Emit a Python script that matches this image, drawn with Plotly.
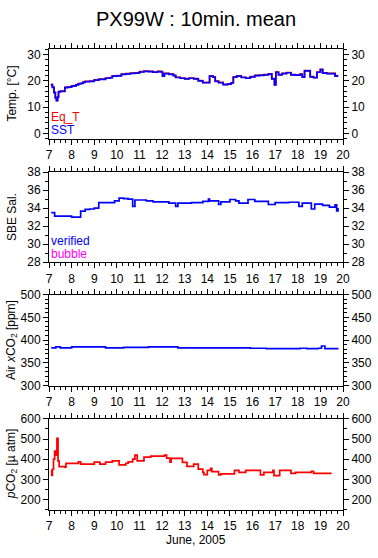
import plotly.graph_objects as go

# ---------------- data ----------------
sst_t = [7.08, 7.15, 7.22, 7.28, 7.33, 7.38, 7.42, 7.5, 7.6, 7.7, 7.8, 7.9, 8.0, 8.1, 8.2, 8.3,
         8.4, 8.5, 8.6, 8.8, 9.0, 9.2, 9.4, 9.5, 9.7, 9.8, 10.0, 10.2, 10.4, 10.6, 10.8, 11.0,
         11.2, 11.4, 11.6, 11.8, 11.95, 12.02, 12.1, 12.3, 12.5, 12.6, 12.8, 13.0, 13.2, 13.4,
         13.6, 13.8, 14.0, 14.1, 14.25, 14.35, 14.5, 14.7, 14.9, 15.05, 15.15, 15.3, 15.5, 15.7,
         15.9, 16.1, 16.3, 16.5, 16.7, 16.85, 16.97, 17.03, 17.15, 17.3, 17.5, 17.7, 17.9, 18.1,
         18.2, 18.3, 18.45, 18.55, 18.7, 18.85, 19.0, 19.1, 19.3, 19.55, 19.65, 19.75]
sst_v = [18.5, 17.5, 15.5, 13.5, 12.5, 13.8, 15.8, 16.0, 16.0, 17.4, 17.5, 17.6, 18.0, 18.1, 18.5, 18.9,
         19.0, 19.4, 19.7, 19.8, 20.3, 20.6, 20.6, 21.0, 21.2, 21.8, 21.9, 22.5, 22.7, 22.9, 23.0, 23.4,
         23.6, 23.5, 23.3, 23.5, 23.4, 21.8, 22.8, 22.5, 22.0, 21.3, 21.0, 20.8, 21.0, 20.8,
         20.0, 19.3, 19.3, 21.8, 21.4, 19.8, 19.3, 18.6, 18.8, 19.2, 21.4, 21.8, 21.3, 21.0,
         21.5, 22.0, 22.1, 22.3, 22.6, 20.8, 18.5, 23.3, 22.3, 22.8, 23.1, 22.3, 22.2, 22.5,
         21.4, 23.8, 23.8, 21.5, 21.2, 23.3, 24.3, 23.0, 22.8, 22.8, 21.8, 22.2]
eqt_v = [18.7, 17.6, 15.6, 13.6, 12.6, 13.9, 15.9, 16.1, 16.1, 17.5, 17.6, 17.7, 18.1, 18.2, 18.6, 19.0,
         19.1, 19.5, 19.8, 19.9, 20.4, 20.7, 20.7, 21.1, 21.3, 21.9, 22.0, 22.6, 22.8, 23.0, 23.1, 23.5,
         23.7, 23.6, 23.4, 23.6, 23.5, 21.9, 22.9, 22.6, 22.1, 21.4, 21.1, 20.9, 21.1, 20.9,
         20.1, 19.4, 19.4, 21.9, 21.5, 19.9, 19.4, 18.7, 18.9, 19.3, 21.5, 21.9, 21.4, 21.1,
         21.6, 22.1, 22.2, 22.4, 22.7, 20.9, 18.6, 23.4, 22.4, 22.9, 23.2, 22.4, 22.3, 22.6,
         21.5, 23.9, 23.9, 21.6, 21.3, 23.4, 24.4, 23.1, 22.9, 22.9, 21.9, 22.3]

sal_t = [7.1, 7.25, 7.5, 7.8, 8.0, 8.3, 8.4, 8.6, 8.8, 9.0, 9.2, 9.5, 9.9, 10.1, 10.3, 10.5,
         10.7, 10.8, 11.0, 11.3, 11.6, 12.0, 12.3, 12.6, 12.7, 13.0, 13.3, 13.8, 14.05, 14.1,
         14.5, 14.6, 15.0, 15.25, 15.4, 15.8, 16.1, 16.4, 16.7, 17.0, 17.3, 17.6, 18.05, 18.2,
         18.6, 18.75, 19.1, 19.4, 19.65, 19.72, 19.78]
sal_v = [33.5, 33.1, 33.1, 33.1, 33.0, 33.0, 33.67, 33.85, 33.9, 34.0, 34.6, 34.6, 34.8, 35.1, 35.05, 35.0,
         34.2, 34.9, 34.9, 34.8, 34.7, 34.7, 34.55, 34.2, 34.55, 34.55, 34.6, 34.75, 35.0, 34.8,
         34.4, 34.7, 34.95, 34.8, 34.55, 34.95, 34.75, 34.75, 34.4, 34.6, 34.6, 34.65, 34.2, 34.55,
         33.9, 34.45, 34.3, 34.1, 34.35, 33.7, 34.0]

air_t = [7.1, 7.3, 7.5, 8.0, 9.5, 10.2, 10.3, 11.4, 12.7, 15.9, 16.5, 16.6, 17.8, 18.1, 18.4,
         18.9, 19.05, 19.2, 19.8]
air_v = [383, 385, 383, 385, 383, 383, 384, 385, 383, 382, 382, 381, 381, 382, 381,
         382, 387, 381, 381]

pco2_t = [7.09, 7.12, 7.15, 7.2, 7.25, 7.3, 7.35, 7.4, 7.45, 7.65, 7.7, 7.75, 8.0, 8.3, 8.4,
          8.9, 9.0, 9.25, 9.5, 9.8, 10.1, 10.4, 10.5, 10.7, 10.8, 10.9, 11.2, 11.5, 12.0, 12.1,
          12.2, 12.35, 12.4, 12.8, 12.9, 13.1, 13.4, 13.6, 13.8, 13.85, 14.0, 14.15, 14.2, 14.5,
          14.6, 15.2, 15.4, 15.7, 16.35, 16.5, 16.9, 16.95, 17.2, 17.7, 17.9, 18.3, 18.6, 18.7,
          19.5]
pco2_v = [345, 320, 350, 400, 440, 420, 504, 390, 363, 363, 360, 379, 379, 387, 376,
          376, 385, 376, 385, 392, 372, 380, 387, 400, 420, 392, 410, 415, 415, 420,
          405, 385, 404, 404, 384, 364, 376, 351, 335, 323, 345, 354, 338, 322,
          327, 345, 335, 345, 322, 335, 345, 318, 345, 330, 335, 335, 340, 330,
          330]

x_ticks = list(range(7, 21))

# ---------------- layout helpers ----------------
W, H = 378, 558
L, R = 49, 35
FONT = "Liberation Sans, Arial, sans-serif"
panels = [  # (top px, bottom px, range, dtick, minor)
    (42.7, 135.0, [-2, 32.3], 10, 2),
    (169.3, 261.7, [28, 38], 2, 1),
    (295.0, 388.3, [300, 500], 50, 10),
    (422.5, 515.5, [150, 600], 100, 50),
]

def py(p):
    return 1 - p / H

def px(p):
    return (p - L) / (W - L - R)

fig = go.Figure()

series = [
    (1, sst_t, eqt_v, "#ff0000"),
    (1, sst_t, sst_v, "#0000ff"),
    (2, sal_t, sal_v, "#0000ff"),
    (3, air_t, air_v, "#0000ff"),
    (4, pco2_t, pco2_v, "#ff0000"),
]
for n, t, v, c in series:
    sfx = "" if n == 1 else str(n)
    fig.add_trace(go.Scatter(x=t, y=v, mode="lines", line=dict(color=c, width=1.7, shape="hv"),
                             xaxis="x" + sfx, yaxis="y" + sfx, showlegend=False, hoverinfo="skip"))
# empty traces to hold the right-hand label axes
for n in range(1, 5):
    sfx = "" if n == 1 else str(n)
    fig.add_trace(go.Scatter(x=[None], y=[None], xaxis="x" + sfx, yaxis="y" + str(n + 4),
                             showlegend=False, hoverinfo="skip"))

tickfont = dict(family=FONT, size=12, color="black")
lay = {}
for i, (top, bot, rng, dt, mn) in enumerate(panels):
    n = i + 1
    sfx = "" if n == 1 else str(n)
    dom = [py(bot), py(top)]
    lay["xaxis" + sfx] = dict(domain=[0, 1], anchor="y" + sfx, range=[7, 20],
                              tickmode="array", tickvals=x_ticks, ticktext=[str(v) for v in x_ticks],
                              ticks="outside", ticklen=5, tickcolor="black",
                              minor=dict(dtick=0.25, tick0=7, ticks="outside", ticklen=3, tickcolor="black"),
                              showline=True, linecolor="black", linewidth=1, mirror="ticks",
                              showgrid=False, zeroline=False, tickfont=tickfont, fixedrange=True)
    lay["yaxis" + sfx] = dict(domain=dom, anchor="x" + sfx, range=rng, dtick=dt, tick0=0,
                              ticks="outside", ticklen=5, tickcolor="black",
                              minor=dict(dtick=mn, ticks="outside", ticklen=3, tickcolor="black"),
                              showline=True, linecolor="black", linewidth=1, mirror=True,
                              showgrid=False, zeroline=False, tickfont=tickfont)
    lay["yaxis" + str(n + 4)] = dict(overlaying="y" + sfx, anchor="x" + sfx, side="right", range=rng,
                                     dtick=dt, tick0=0, ticks="outside", ticklen=5, tickcolor="black",
                                     minor=dict(dtick=mn, ticks="outside", ticklen=3, tickcolor="black"),
                                     showline=False, showgrid=False, zeroline=False, tickfont=tickfont)

ytitles = ["Temp. [°C]", "SBE Sal.", "Air <i>x</i>CO<sub>2</sub> [ppm]", "<i>p</i>CO<sub>2</sub> [µ atm]"]
ann = []
for (top, bot, rng, dt, mn), txt in zip(panels, ytitles):
    ann.append(dict(text=txt, xref="paper", yref="paper", x=px(12), y=py((top + bot) / 2),
                    xanchor="center", yanchor="middle", textangle=-90, showarrow=False,
                    font=dict(family=FONT, size=12, color="black")))

def label(txt, xp, yp, color, size=12):
    return dict(text=txt, xref="paper", yref="paper", x=px(xp), y=py(yp), xanchor="left",
                yanchor="middle", showarrow=False, borderpad=0,
                font=dict(family=FONT, size=size, color=color))

ann += [
    label("Eq_T", 50, 112.5, "#ff0000", 12),
    label("SST", 50, 126, "#0000ff", 12),
    label("verified", 50, 240, "#0000ff", 12),
    label("bubble", 50, 253.5, "#ff00ff", 12),
    dict(text="PX99W : 10min. mean", xref="paper", yref="paper", x=px(196), y=py(12),
         xanchor="center", yanchor="middle", showarrow=False, font=dict(family=FONT, size=20, color="black")),
    dict(text="June, 2005", xref="paper", yref="paper", x=px(196), y=py(547),
         xanchor="center", yanchor="middle", showarrow=False, font=dict(family=FONT, size=12, color="black")),
]

fig.update_layout(width=W, height=H, margin=dict(l=L, r=R, t=0, b=0), paper_bgcolor="white",
                  plot_bgcolor="white", annotations=ann, **lay)
fig.write_html("out.html", config={"displayModeBar": False},
               post_script="document.body.style.margin='0';document.body.style.overflow='hidden';")
